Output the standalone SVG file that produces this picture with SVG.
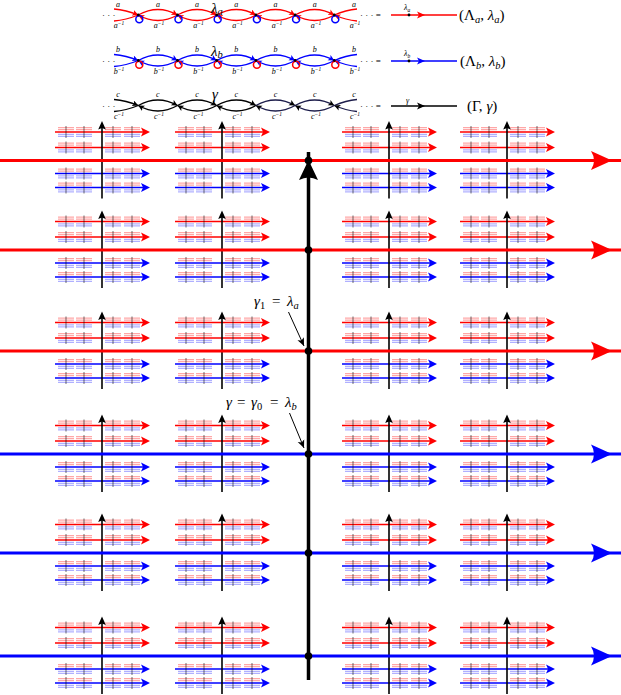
<svg xmlns="http://www.w3.org/2000/svg" width="621" height="695" viewBox="0 0 621 695">
<style>
.fr{stroke:#ff5050;stroke-opacity:.5;stroke-width:1.2;fill:none}
.fb{stroke:#5050ff;stroke-opacity:.45;stroke-width:1.2;fill:none}
.tk{stroke:#000;stroke-opacity:.7;stroke-width:.8;fill:none}
.lab{font-family:"Liberation Serif",serif;font-style:italic;font-size:8px}
.labs{font-family:"Liberation Serif",serif;font-style:italic;font-size:5.5px}
.big{font-family:"Liberation Serif",serif;font-style:italic;font-size:15px}
.bigs{font-family:"Liberation Serif",serif;font-style:italic;font-size:10.5px}
.rm{font-style:normal}
.dots{font-family:"Liberation Serif",serif;font-size:9px}
</style>
<defs>
<marker id="mR" markerWidth="8" markerHeight="8" refX="6" refY="3" orient="auto" markerUnits="userSpaceOnUse"><path d="M0,0L6,3L0,6L1.5,3Z" fill="#f00"/></marker>
<marker id="mB" markerWidth="8" markerHeight="8" refX="6" refY="3" orient="auto" markerUnits="userSpaceOnUse"><path d="M0,0L6,3L0,6L1.5,3Z" fill="#00f"/></marker>
<marker id="mK" markerWidth="8" markerHeight="8" refX="6" refY="3" orient="auto" markerUnits="userSpaceOnUse"><path d="M0,0L6,3L0,6L1.5,3Z" fill="#000"/></marker>
<marker id="mA" markerWidth="10" markerHeight="10" refX="8" refY="4" orient="auto" markerUnits="userSpaceOnUse"><path d="M0,0.5L8,4L0,7.5L2,4Z" fill="#000"/></marker>
<g id="sb">
<path d="M-8,-4.3H8M-8,-2.3H8" class="fr"/>
<path d="M-8,2.3H8M-8,4.3H8" class="fb"/>
<path d="M0,-6V6" class="tk"/>
</g>
<g id="pat">
<use href="#sb" x="11"/><use href="#sb" x="29"/><use href="#sb" x="58"/><use href="#sb" x="77"/>
</g>
<g id="uR">
<path d="M0,0H89" stroke="#f00" stroke-width="1.6"/>
<use href="#pat"/>
<path d="M95,0L86,-4.5L88,0L86,4.5Z" fill="#f00"/>
</g>
<g id="uB">
<path d="M0,0H89" stroke="#00f" stroke-width="1.6"/>
<use href="#pat"/>
<path d="M95,0L86,-4.5L88,0L86,4.5Z" fill="#00f"/>
</g>
<g id="blk">
<use href="#uR" x="-47" y="-28.5"/>
<use href="#uR" x="-47" y="-13"/>
<use href="#uB" x="-47" y="13"/>
<use href="#uB" x="-47" y="27"/>
<path d="M0,-33V38" stroke="#000" stroke-width="1.6"/>
<path d="M0,-39.5L-3.8,-31L0,-32.5L3.8,-31Z" fill="#000"/>
</g>
<path id="bigR" d="M612,0L591,-9.5Q597,0 591,9.5Z"/>
</defs>

<!-- chain a -->
<g id="chain-a" fill="none" stroke="#f00" stroke-width="1.3">
<path d="M114,9Q126,10 138.3,15" marker-end="url(#mR)"/>
<path d="M138.3,15Q157.9,4 177.5,15" marker-end="url(#mR)"/>
<path d="M177.5,15Q197.1,4 216.7,15" marker-end="url(#mR)"/>
<path d="M216.7,15Q236.3,4 255.9,15" marker-end="url(#mR)"/>
<path d="M255.9,15Q275.5,4 295.1,15" marker-end="url(#mR)"/>
<path d="M295.1,15Q314.7,4 334.3,15" marker-end="url(#mR)"/>
<path d="M177.5,15Q157.9,26 138.3,15" marker-end="url(#mR)"/>
<path d="M216.7,15Q197.1,26 177.5,15" marker-end="url(#mR)"/>
<path d="M255.9,15Q236.3,26 216.7,15" marker-end="url(#mR)"/>
<path d="M295.1,15Q275.5,26 255.9,15" marker-end="url(#mR)"/>
<path d="M334.3,15Q314.7,26 295.1,15" marker-end="url(#mR)"/>
<path d="M138.3,15Q126,20 114,21"/>
<path d="M334.3,15Q346,10 357,9"/>
<path d="M357,21Q346,20 334.3,15" marker-end="url(#mR)"/>
</g>
<g id="loops-a" fill="none" stroke="#00f" stroke-width="1.5">
<circle cx="139.3" cy="19.3" r="3.5"/><circle cx="178.5" cy="19.3" r="3.5"/><circle cx="217.7" cy="19.3" r="3.5"/><circle cx="256.9" cy="19.3" r="3.5"/><circle cx="296.1" cy="19.3" r="3.5"/><circle cx="335.3" cy="19.3" r="3.5"/>
</g>
<g id="dots-a" fill="#000">
<circle cx="138.3" cy="15" r="1.4"/><circle cx="177.5" cy="15" r="1.4"/><circle cx="216.7" cy="15" r="1.4"/><circle cx="255.9" cy="15" r="1.4"/><circle cx="295.1" cy="15" r="1.4"/><circle cx="334.3" cy="15" r="1.4"/>
</g>
<g id="labels-a" text-anchor="middle">
<text class="lab" x="118" y="7">a</text><text class="lab" x="157.9" y="7">a</text><text class="lab" x="197.1" y="7">a</text><text class="lab" x="236.3" y="7">a</text><text class="lab" x="275.5" y="7">a</text><text class="lab" x="314.7" y="7">a</text><text class="lab" x="354" y="7">a</text>
<text class="lab" x="119" y="28">a<tspan class="labs" dy="-3">−1</tspan></text><text class="lab" x="159" y="28">a<tspan class="labs" dy="-3">−1</tspan></text><text class="lab" x="198.5" y="28">a<tspan class="labs" dy="-3">−1</tspan></text><text class="lab" x="237.5" y="28">a<tspan class="labs" dy="-3">−1</tspan></text><text class="lab" x="277" y="28">a<tspan class="labs" dy="-3">−1</tspan></text><text class="lab" x="316" y="28">a<tspan class="labs" dy="-3">−1</tspan></text><text class="lab" x="355" y="28">a<tspan class="labs" dy="-3">−1</tspan></text>
</g>
<text class="big" x="211" y="12.5" font-size="12">λ<tspan class="bigs" dy="2" font-size="9">a</tspan></text>
<text class="dots" x="102" y="18">· · ·</text>
<text class="dots" x="360" y="18">· · · =</text>
<g id="legend-a">
<path d="M391,15H457" stroke="#f00" stroke-width="1.3"/>
<circle cx="409" cy="15" r="1.4" fill="#000"/>
<path d="M425,15L417,11.5L419,15L417,18.5Z" fill="#f00"/>
<text class="lab" x="404" y="10">λ<tspan class="labs" dy="1.5">a</tspan></text>
<text class="big" x="459" y="20" font-size="14"><tspan class="rm">(Λ</tspan><tspan class="bigs" dy="3">a</tspan><tspan class="rm" dy="-3">, </tspan>λ<tspan class="bigs" dy="3">a</tspan><tspan class="rm" dy="-3">)</tspan></text>
</g>

<!-- chain b -->
<g id="chain-b" fill="none" stroke="#00f" stroke-width="1.3">
<path d="M114,54.5Q126,55.5 138.3,60.5" marker-end="url(#mB)"/>
<path d="M138.3,60.5Q157.9,49.5 177.5,60.5" marker-end="url(#mB)"/>
<path d="M177.5,60.5Q197.1,49.5 216.7,60.5" marker-end="url(#mB)"/>
<path d="M216.7,60.5Q236.3,49.5 255.9,60.5" marker-end="url(#mB)"/>
<path d="M255.9,60.5Q275.5,49.5 295.1,60.5" marker-end="url(#mB)"/>
<path d="M295.1,60.5Q314.7,49.5 334.3,60.5" marker-end="url(#mB)"/>
<path d="M177.5,60.5Q157.9,71.5 138.3,60.5" marker-end="url(#mB)"/>
<path d="M216.7,60.5Q197.1,71.5 177.5,60.5" marker-end="url(#mB)"/>
<path d="M255.9,60.5Q236.3,71.5 216.7,60.5" marker-end="url(#mB)"/>
<path d="M295.1,60.5Q275.5,71.5 255.9,60.5" marker-end="url(#mB)"/>
<path d="M334.3,60.5Q314.7,71.5 295.1,60.5" marker-end="url(#mB)"/>
<path d="M138.3,60.5Q126,65.5 114,66.5"/>
<path d="M334.3,60.5Q346,55.5 357,54.5"/>
<path d="M357,66.5Q346,65.5 334.3,60.5" marker-end="url(#mB)"/>
</g>
<g id="loops-b" fill="none" stroke="#f00" stroke-width="1.5">
<circle cx="139.3" cy="64.8" r="3.5"/><circle cx="178.5" cy="64.8" r="3.5"/><circle cx="217.7" cy="64.8" r="3.5"/><circle cx="256.9" cy="64.8" r="3.5"/><circle cx="296.1" cy="64.8" r="3.5"/><circle cx="335.3" cy="64.8" r="3.5"/>
</g>
<g id="dots-b" fill="#000">
<circle cx="138.3" cy="60.5" r="1.4"/><circle cx="177.5" cy="60.5" r="1.4"/><circle cx="216.7" cy="60.5" r="1.4"/><circle cx="255.9" cy="60.5" r="1.4"/><circle cx="295.1" cy="60.5" r="1.4"/><circle cx="334.3" cy="60.5" r="1.4"/>
</g>
<g id="labels-b" text-anchor="middle">
<text class="lab" x="118" y="52">b</text><text class="lab" x="157.9" y="52">b</text><text class="lab" x="197.1" y="52">b</text><text class="lab" x="236.3" y="52">b</text><text class="lab" x="275.5" y="52">b</text><text class="lab" x="314.7" y="52">b</text><text class="lab" x="354" y="52">b</text>
<text class="lab" x="119" y="73.5">b<tspan class="labs" dy="-3">−1</tspan></text><text class="lab" x="159" y="73.5">b<tspan class="labs" dy="-3">−1</tspan></text><text class="lab" x="198.5" y="73.5">b<tspan class="labs" dy="-3">−1</tspan></text><text class="lab" x="237.5" y="73.5">b<tspan class="labs" dy="-3">−1</tspan></text><text class="lab" x="277" y="73.5">b<tspan class="labs" dy="-3">−1</tspan></text><text class="lab" x="316" y="73.5">b<tspan class="labs" dy="-3">−1</tspan></text><text class="lab" x="355" y="73.5">b<tspan class="labs" dy="-3">−1</tspan></text>
</g>
<text class="big" x="211" y="55.5" font-size="12.5">λ<tspan class="bigs" dy="2.5" font-size="9.5">b</tspan></text>
<text class="dots" x="102" y="63.5">· · ·</text>
<text class="dots" x="360" y="63.5">· · · =</text>
<g id="legend-b">
<path d="M391,61H457" stroke="#00f" stroke-width="1.3"/>
<circle cx="409" cy="61" r="1.4" fill="#000"/>
<path d="M425,61L417,57.5L419,61L417,64.5Z" fill="#00f"/>
<text class="lab" x="404" y="56">λ<tspan class="labs" dy="1.5">b</tspan></text>
<text class="big" x="460" y="66" font-size="14"><tspan class="rm">(Λ</tspan><tspan class="bigs" dy="3">b</tspan><tspan class="rm" dy="-3">, </tspan>λ<tspan class="bigs" dy="3">b</tspan><tspan class="rm" dy="-3">)</tspan></text>
</g>

<!-- chain c -->
<g id="chain-c" fill="none" stroke="#000" stroke-width="1.3">
<path d="M114,99.5Q126,100.5 138.3,105.5" marker-end="url(#mK)"/>
<path d="M138.3,105.5Q157.9,94.5 177.5,105.5" marker-end="url(#mK)"/>
<path d="M177.5,105.5Q197.1,94.5 216.7,105.5" marker-end="url(#mK)"/>
<path d="M216.7,105.5Q236.3,94.5 255.9,105.5" marker-end="url(#mK)"/>
<path d="M255.9,105.5Q275.5,94.5 295.1,105.5" marker-end="url(#mK)" stroke="#1c1c4a"/>
<path d="M295.1,105.5Q314.7,94.5 334.3,105.5" marker-end="url(#mK)" stroke="#1c1c4a"/>
<path d="M177.5,105.5Q157.9,116.5 138.3,105.5" marker-end="url(#mK)"/>
<path d="M216.7,105.5Q197.1,116.5 177.5,105.5" marker-end="url(#mK)"/>
<path d="M255.9,105.5Q236.3,116.5 216.7,105.5" marker-end="url(#mK)"/>
<path d="M295.1,105.5Q275.5,116.5 255.9,105.5" marker-end="url(#mK)" stroke="#1c1c4a"/>
<path d="M334.3,105.5Q314.7,116.5 295.1,105.5" marker-end="url(#mK)" stroke="#1c1c4a"/>
<path d="M138.3,105.5Q126,110.5 114,111.5"/>
<path d="M334.3,105.5Q346,100.5 357,99.5" stroke="#1c1c4a"/>
<path d="M357,111.5Q346,110.5 334.3,105.5" marker-end="url(#mK)" stroke="#1c1c4a"/>
</g>
<g id="labels-c" text-anchor="middle">
<text class="lab" x="118" y="97">c</text><text class="lab" x="157.9" y="97">c</text><text class="lab" x="197.1" y="97">c</text><text class="lab" x="236.3" y="97">c</text><text class="lab" x="275.5" y="97">c</text><text class="lab" x="314.7" y="97">c</text><text class="lab" x="354" y="97">c</text>
<text class="lab" x="119" y="118.5">c<tspan class="labs" dy="-3">−1</tspan></text><text class="lab" x="159" y="118.5">c<tspan class="labs" dy="-3">−1</tspan></text><text class="lab" x="198.5" y="118.5">c<tspan class="labs" dy="-3">−1</tspan></text><text class="lab" x="237.5" y="118.5">c<tspan class="labs" dy="-3">−1</tspan></text><text class="lab" x="277" y="118.5">c<tspan class="labs" dy="-3">−1</tspan></text><text class="lab" x="316" y="118.5">c<tspan class="labs" dy="-3">−1</tspan></text><text class="lab" x="355" y="118.5">c<tspan class="labs" dy="-3">−1</tspan></text>
</g>
<text class="big" x="212" y="99" font-size="13">γ</text>
<text class="dots" x="102" y="108.5">· · ·</text>
<text class="dots" x="360" y="108.5">· · · =</text>
<g id="legend-c">
<path d="M391,106H457" stroke="#000" stroke-width="1.3"/>
<path d="M425,106L417,102.5L419,106L417,109.5Z" fill="#000"/>
<text class="lab" x="406" y="103" font-size="10">γ</text>
<text class="big" x="467" y="111" font-size="14"><tspan class="rm">(Γ, </tspan>γ<tspan class="rm">)</tspan></text>
</g>

<!-- blocks -->
<g id="row1">
<g id="n-1-1"><use href="#blk" x="102" y="160.5"/></g>
<g id="n-1-2"><use href="#blk" x="222" y="160.5"/></g>
<g id="n-1-3"><use href="#blk" x="389" y="160.5"/></g>
<g id="n-1-4"><use href="#blk" x="507" y="160.5"/></g>
</g>
<g id="row2">
<g id="n-2-1"><use href="#blk" x="102" y="250"/></g>
<g id="n-2-2"><use href="#blk" x="222" y="250"/></g>
<g id="n-2-3"><use href="#blk" x="389" y="250"/></g>
<g id="n-2-4"><use href="#blk" x="507" y="250"/></g>
</g>
<g id="row3">
<g id="n-3-1"><use href="#blk" x="102" y="351"/></g>
<g id="n-3-2"><use href="#blk" x="222" y="351"/></g>
<g id="n-3-3"><use href="#blk" x="389" y="351"/></g>
<g id="n-3-4"><use href="#blk" x="507" y="351"/></g>
</g>
<g id="row4">
<g id="n-4-1"><use href="#blk" x="102" y="454"/></g>
<g id="n-4-2"><use href="#blk" x="222" y="454"/></g>
<g id="n-4-3"><use href="#blk" x="389" y="454"/></g>
<g id="n-4-4"><use href="#blk" x="507" y="454"/></g>
</g>
<g id="row5">
<g id="n-5-1"><use href="#blk" x="102" y="553"/></g>
<g id="n-5-2"><use href="#blk" x="222" y="553"/></g>
<g id="n-5-3"><use href="#blk" x="389" y="553"/></g>
<g id="n-5-4"><use href="#blk" x="507" y="553"/></g>
</g>
<g id="row6">
<g id="n-6-1"><use href="#blk" x="102" y="656"/></g>
<g id="n-6-2"><use href="#blk" x="222" y="656"/></g>
<g id="n-6-3"><use href="#blk" x="389" y="656"/></g>
<g id="n-6-4"><use href="#blk" x="507" y="656"/></g>
</g>

<!-- connectors -->
<g id="connectors">
<g stroke-width="3" fill="none">
<path d="M0,160.5H621" stroke="#f00"/>
<path d="M0,250H621" stroke="#f00"/>
<path d="M0,351H621" stroke="#f00"/>
<path d="M0,454H621" stroke="#00f"/>
<path d="M0,553H621" stroke="#00f"/>
<path d="M0,656H621" stroke="#00f"/>
</g>
<use href="#bigR" y="160.5" fill="#f00"/>
<use href="#bigR" y="250" fill="#f00"/>
<use href="#bigR" y="351" fill="#f00"/>
<use href="#bigR" y="454" fill="#00f"/>
<use href="#bigR" y="553" fill="#00f"/>
<use href="#bigR" y="656" fill="#00f"/>
<path d="M308.5,152V680" stroke="#000" stroke-width="3.5"/>
<path d="M308.5,160L299,180Q308.5,175 318,180Z" fill="#000"/>
<g fill="#000">
<circle cx="308.5" cy="160.5" r="3.8"/><circle cx="308.5" cy="250" r="3.8"/><circle cx="308.5" cy="351" r="3.8"/><circle cx="308.5" cy="454" r="3.8"/><circle cx="308.5" cy="553" r="3.8"/><circle cx="308.5" cy="656" r="3.8"/>
</g>
<path d="M288.5,312L304,346" stroke="#000" stroke-width="1" fill="none" marker-end="url(#mA)"/>
<path d="M289.5,413L304,448" stroke="#000" stroke-width="1" fill="none" marker-end="url(#mA)"/>
</g>
<text class="big" y="306"><tspan x="254">γ</tspan><tspan class="bigs rm" dy="3">1</tspan><tspan class="rm" x="272" dy="-3">=</tspan><tspan x="287">λ</tspan><tspan class="bigs" dy="3">a</tspan></text>
<text class="big" y="407"><tspan x="226">γ</tspan><tspan class="rm" x="237">=</tspan><tspan x="251">γ</tspan><tspan class="bigs rm" dy="3">0</tspan><tspan class="rm" x="270" dy="-3">=</tspan><tspan x="285">λ</tspan><tspan class="bigs" dy="3">b</tspan></text>
</svg>
